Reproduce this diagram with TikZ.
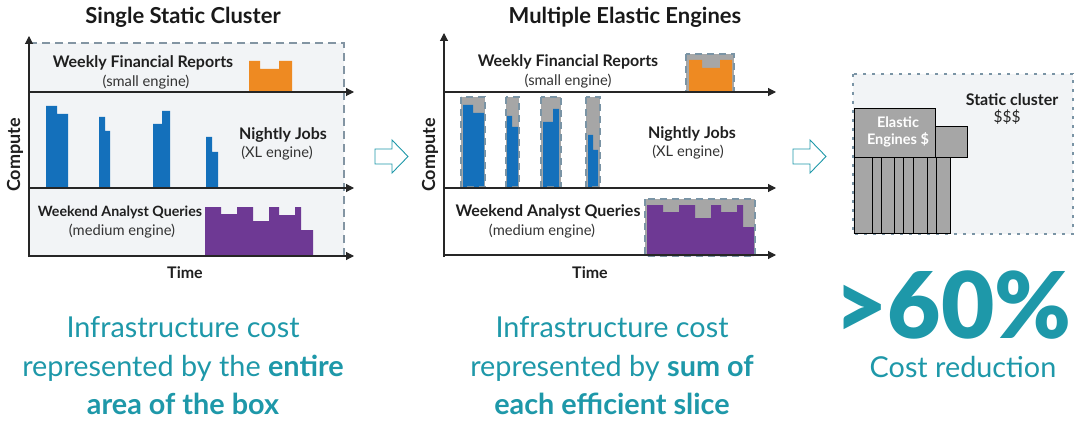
\documentclass[tikz,border=0pt]{standalone}
\usepackage{fontspec}
\setmainfont{Lato}
\newfontfamily\blackfont{Lato Black}
\usepackage{xcolor}
\usetikzlibrary{arrows.meta}

\definecolor{bgray}{HTML}{F2F4F6}
\definecolor{boxdash}{HTML}{8395A3}
\definecolor{axisgray}{HTML}{262626}
\definecolor{jobblue}{HTML}{1470BB}
\definecolor{reportorange}{HTML}{EE8A22}
\definecolor{querypurple}{HTML}{6E3994}
\definecolor{slicegray}{HTML}{A6A6A6}
\definecolor{slicedash}{HTML}{7A94A5}
\definecolor{tealtext}{HTML}{1E98A9}

\tikzset{
  axis/.style={draw=axisgray, line width=1.1pt, -{Triangle[length=8pt,width=8pt]}},
  title/.style={font=\fontsize{22}{26}\selectfont\bfseries, text=black!90},
  lane/.style={font=\fontsize{16}{19}\selectfont\bfseries, text=black!88},
  engine/.style={font=\fontsize{14.7}{17}\selectfont, text=black!80},
  axlabel/.style={font=\fontsize{16}{18}\selectfont\bfseries, text=black!88},
  slice/.style={draw=slicedash, line width=2.2pt, dash pattern=on 7pt off 5pt},
  costnote/.style={font=\fontsize{28.8}{38.5}\selectfont, text=tealtext, align=center},
  bigarrow/.style={draw=tealtext, line width=0.9pt, fill=white},
  cluster/.style={draw=black, line width=0.8pt, fill=slicegray}
}

\begin{document}
\begin{tikzpicture}[x=1pt,y=-1pt]
  \useasboundingbox (0,0) rectangle (1075,422);

  % ---------------- Single static cluster ----------------
  \node[title] (t1) at (183,17) {Single Static Cluster};
  \fill[bgray] (29,43) rectangle (344,256);
  \draw[boxdash, line width=1.5pt, dash pattern=on 8pt off 5pt] (29,43) -- (344,43) -- (344,256);
  % reports
  \fill[reportorange] (249,92) -- (249,61) -| (260,69) -| (279,61) -| (292,92) -- cycle;
  % nightly jobs
  \foreach \xa/\xb/\xc/\ya/\yb in {46/57/68/106/114, 99/105/110/117/131, 153/162/170/124/111, 206/212/218/137/152}{
    \fill[jobblue] (\xa,188) |- (\xb,\ya) |- (\xc,\yb) -- (\xc,188) -- cycle;
  }
  % analyst queries
  \fill[querypurple] (205,256) -- (205,207) -| (221,214) -| (237,207) -| (253,221) -| (269,207)
    -| (279,215) -| (295,207) -| (301,230) -| (313,256) -- cycle;
  % axes
  \draw[axis] (29,257) -- (29,36);
  \foreach \y in {92,188,256}{
    \draw[axis] (29,\y) -- (354,\y);
  }
  \node[lane] (rep1) at (143,63) {Weekly Financial Reports};
  \node[engine] (rep1e) at (146,82) {(small engine)};
  \node[lane] (job1) at (283,135) {Nightly Jobs};
  \node[engine] (job1e) at (277,153) {(XL engine)};
  \node[lane, font=\fontsize{14.2}{17}\selectfont\bfseries] (qry1) at (120,212) {Weekend Analyst Queries};
  \node[engine] (qry1e) at (122,231) {(medium engine)};
  \node[axlabel, rotate=90, font=\fontsize{18}{20}\selectfont\bfseries] (cmp1) at (15,155) {Compute};
  \node[axlabel] (tim1) at (185,273) {Time};

  % hollow arrows
  \foreach \x in {375,793}{
    \draw[bigarrow] (\x,149) -- (\x+17,149) -- (\x+17,140) -- (\x+33,156.5) -- (\x+17,173)
      -- (\x+17,164) -- (\x,164) -- cycle;
  }

  % ---------------- Multiple elastic engines ----------------
  \node[title] (t2) at (625,17) {Multiple Elastic Engines};
  % reports
  \fill[slicegray] (686,54) rectangle (734,92);
  \fill[reportorange] (689,92) -- (689,60) -| (702,68) -| (720,60) -| (732,92) -- cycle;
  \draw[slice] (686,54) rectangle (734,92);
  % nightly jobs
  \foreach \l/\r/\xa/\xb/\xc/\ya/\yb in {461/485/463/473/484/105/113, 506/519/507/512/518/116/127,
      541/561/543/553/559/122/109, 586/600/588/593/598/135/150}{
    \fill[slicegray] (\l,97) rectangle (\r,187);
    \fill[jobblue] (\xa,187) |- (\xb,\ya) |- (\xc,\yb) -- (\xc,187) -- cycle;
    \draw[slice] (\l,97) rectangle (\r,187);
  }
  % analyst queries
  \fill[slicegray] (645,199) rectangle (755,256);
  \fill[querypurple] (647,256) -- (647,205) -| (663,212) -| (679,205) -| (695,218) -| (711,205)
    -| (721,212) -| (737,205) -| (743,227) -| (754,256) -- cycle;
  \draw[slice] (645,199) rectangle (755,256);
  % axes
  \draw[axis] (444,257) -- (444,33);
  \foreach \y in {92,188,255}{
    \draw[axis] (444,\y) -- (776,\y);
  }
  \node[lane] (rep2) at (568,62) {Weekly Financial Reports};
  \node[engine] (rep2e) at (568,81) {(small engine)};
  \node[lane] (job2) at (692,134) {Nightly Jobs};
  \node[engine] (job2e) at (688,152) {(XL engine)};
  \node[lane] (qry2) at (548,212) {Weekend Analyst Queries};
  \node[engine] (qry2e) at (542,231) {(medium engine)};
  \node[axlabel, rotate=90, font=\fontsize{18}{20}\selectfont\bfseries] (cmp2) at (430,155) {Compute};
  \node[axlabel] (tim2) at (590,273) {Time};

  % ---------------- Static cluster vs elastic ----------------
  \fill[bgray] (853,74) rectangle (1073,234);
  \draw[slicedash, line width=2.6pt, dash pattern=on 2.6pt off 6.4pt] (853,74) rectangle (1073,234);
  \draw[cluster] (935,126) rectangle (967,157);
  \draw[cluster] (854,108) rectangle (935,157);
  \foreach \xa/\xb in {854/872, 872/881, 881/894, 894/903, 903/913, 913/927, 927/936, 936/950}{
    \draw[cluster] (\xa,157) rectangle (\xb,233);
  }
  \node[font=\fontsize{14.5}{17}\selectfont\bfseries, text=white, align=center] (elastic) at (898,132) {Elastic\\Engines \$};
  \node[lane] (static) at (1012,100) {Static cluster};
  \node[engine, text=black!85, font=\fontsize{15.5}{17}\selectfont] (dollars) at (1007,117) {\$\$\$};

  % ---------------- cost notes ----------------
  \node[costnote] (note1) at (183,366) {Infrastructure cost\\represented by the \textbf{entire}\\\textbf{area of the box}};
  \node[costnote] (note2) at (612,366) {Infrastructure cost\\represented by \textbf{sum of}\\\textbf{each efficient slice}};
  \node[font=\blackfont\fontsize{92}{92}\selectfont, text=tealtext] (pct) at (953,305) {>60\%};
  \node[costnote] (reduce) at (963,367) {Cost reduction};
\end{tikzpicture}
\end{document}
